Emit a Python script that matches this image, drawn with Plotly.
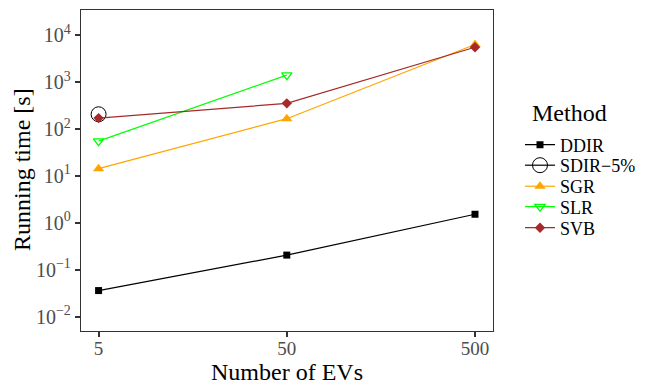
import plotly.graph_objects as go

x_evs = [5, 50, 500]
ddir = [0.036, 0.205, 1.52]
sdir5_x = [5]
sdir5 = [205]
sgr = [14.2, 165, 6300]
slr_x = [5, 50]
slr = [55, 1400]
svb = [170, 350, 5500]

y_tickvals = [1e-2, 1e-1, 1, 10, 100, 1e3, 1e4]
y_ticktext = ["10<sup>−2</sup>", "10<sup>−1</sup>", "10<sup>0</sup>", "10<sup>1</sup>",
              "10<sup>2</sup>", "10<sup>3</sup>", "10<sup>4</sup>"]
x_tickvals = [5, 50, 500]
x_ticktext = ["5", "50", "500"]

FONT = "Liberation Serif, Times New Roman, serif"

# page body has an ~8px margin; compensate so the figure lands where the reference has it
W, H = 646, 387
ML, MT, PW, PH = 73, 2, 412, 321
MR = W - ML - PW
MB = H - MT - PH

def fx(px):  # target pixel x -> paper fraction
    return (px - 8 - ML) / PW

def fy(py):  # target pixel y -> paper fraction
    return 1 - (py - 8 - MT) / PH

fig = go.Figure()
fig.add_trace(go.Scatter(x=x_evs, y=ddir, name="DDIR", mode="lines+markers", legend="legend",
                         line=dict(color="black", width=1.2),
                         marker=dict(symbol="square", size=7, color="black")))
fig.add_trace(go.Scatter(x=sdir5_x, y=sdir5, name="SDIR−5%", mode="lines+markers", legend="legend2",
                         line=dict(color="black", width=1.2),
                         marker=dict(symbol="circle-open", size=15, color="black",
                                     line=dict(width=1))))
fig.add_trace(go.Scatter(x=x_evs, y=sgr, name="SGR", mode="lines+markers", legend="legend3",
                         line=dict(color="orange", width=1.2),
                         marker=dict(symbol="triangle-up", size=10, color="orange")))
fig.add_trace(go.Scatter(x=slr_x, y=slr, name="SLR", mode="lines+markers", legend="legend4",
                         line=dict(color="#00FF00", width=1.2),
                         marker=dict(symbol="triangle-down-open", size=9, color="#00FF00",
                                     line=dict(width=1.3))))
fig.add_trace(go.Scatter(x=x_evs, y=svb, name="SVB", mode="lines+markers", legend="legend5",
                         line=dict(color="#A52A2A", width=1.2),
                         marker=dict(symbol="diamond", size=8, color="#A52A2A")))

axis_common = dict(showgrid=False, zeroline=False, showline=True, linecolor="#333333",
                   linewidth=1.3, mirror=True, ticks="outside", ticklen=5,
                   tickwidth=1.5, tickcolor="#333333", automargin=False,
                   tickfont=dict(family=FONT, size=19, color="#4d4d4d"))

fig.update_xaxes(type="log", range=[0.6055, 2.7946], tickvals=x_tickvals, ticktext=x_ticktext,
                 ticklabelstandoff=-5, **axis_common)
fig.update_yaxes(type="log", range=[-2.305, 4.533], tickvals=y_tickvals, ticktext=y_ticktext,
                 **axis_common)
fig.update_yaxes(tickfont=dict(size=20))

leg_x = fx(520)
leg_common = dict(font=dict(family=FONT, size=18, color="black"), x=leg_x, xanchor="left",
                  yanchor="middle", bgcolor="rgba(0,0,0,0)", borderwidth=0)
legend_y = [145, 165.5, 186.5, 207, 228]
fig.update_layout(
    width=W, height=H,
    margin=dict(l=ML, r=MR, t=MT, b=MB, autoexpand=False),
    paper_bgcolor="white", plot_bgcolor="white",
    font=dict(family=FONT, color="black"),
    showlegend=True,
    legend=dict(y=fy(legend_y[0]), **leg_common),
    legend2=dict(y=fy(legend_y[1]), **leg_common),
    legend3=dict(y=fy(legend_y[2]), **leg_common),
    legend4=dict(y=fy(legend_y[3]), **leg_common),
    legend5=dict(y=fy(legend_y[4]), **leg_common),
    annotations=[
        dict(text="Method", x=fx(530), y=fy(113), xref="paper", yref="paper",
             xanchor="left", yanchor="middle", showarrow=False,
             font=dict(family=FONT, size=24, color="black")),
        dict(text="Number of EVs", x=fx(287), y=fy(372), xref="paper", yref="paper",
             xanchor="center", yanchor="middle", showarrow=False,
             font=dict(family=FONT, size=24, color="black")),
        dict(text="Running time [s]", x=fx(22), y=fy(170), xref="paper", yref="paper",
             xanchor="center", yanchor="middle", showarrow=False, textangle=-90,
             font=dict(family=FONT, size=24, color="black")),
    ],
)

fig.write_html("out.html")
